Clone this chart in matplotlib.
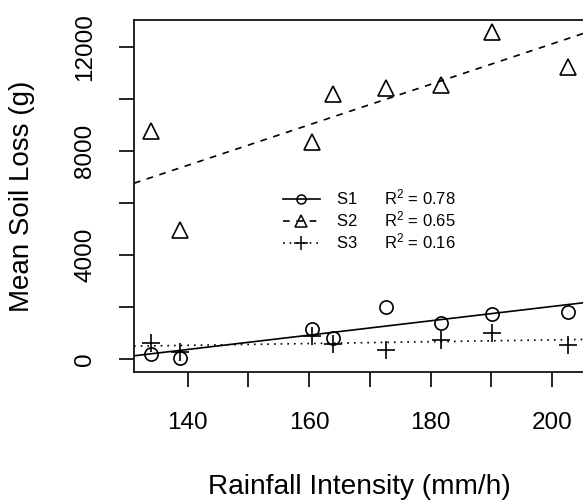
import matplotlib
matplotlib.use("Agg")
import matplotlib.pyplot as plt
from matplotlib.lines import Line2D
import numpy as np

plt.rcParams['font.family'] = ['Liberation Sans', 'DejaVu Sans']
plt.rcParams['mathtext.fontset'] = 'custom'
plt.rcParams['mathtext.rm'] = 'Liberation Sans'
plt.rcParams['mathtext.it'] = 'Liberation Sans'

# Data
rain = [133.9, 138.7, 160.5, 163.9, 172.6, 181.7, 190.1, 202.6]
s1 = [190, 40, 1165, 830, 2020, 1410, 1730, 1820]
s2 = [8780, 4970, 8370, 10190, 10420, 10550, 12600, 11250]
s3 = [640, 290, 900, 580, 360, 740, 1020, 550]
names = ["S1", "S2", "S3"]
r2 = ["0.78", "0.65", "0.16"]
xticks = [140, 150, 160, 170, 180, 190, 200]
xticklabels = ["140", "", "160", "", "180", "", "200"]
yticks = [0, 2000, 4000, 6000, 8000, 10000, 12000]
yticklabels = ["0", "", "4000", "", "8000", "", "12000"]

fig = plt.figure(figsize=(5.83, 5.00), dpi=100)
W, H = 583, 500
L, R, T, B = 134, 584, 20, 372
ax = fig.add_axes([L / W, 1 - B / H, (R - L) / W, (B - T) / H])

xlim = (131.16, 205.24)
ylim = (-488, 13050)
ax.set_xlim(*xlim)
ax.set_ylim(*ylim)

lw = 1.2
markers = ['o', '^', '+']
msizes = [9.5, 12, 13.5]
styles = ['-', (0, (4, 4)), (0, (1, 3))]
series = [s1, s2, s3]
for ys, m, ms, ls in zip(series, markers, msizes, styles):
    ax.plot(rain, ys, linestyle='none', marker=m, markersize=ms,
            markerfacecolor='none', markeredgecolor='black', markeredgewidth=1.2,
            clip_on=False)
    k, b = np.polyfit(rain, ys, 1)
    xx = np.array(xlim)
    ax.plot(xx, k * xx + b, color='black', linestyle=ls, linewidth=lw)

for sp in ax.spines.values():
    sp.set_linewidth(lw)

ax.set_xticks(xticks)
ax.set_xticklabels(xticklabels)
ax.set_yticks(yticks)
ax.set_yticklabels(yticklabels, rotation=90, va='center')
ax.tick_params(axis='both', direction='out', length=11, width=lw,
               labelsize=17.5, colors='black')
ax.tick_params(axis='x', pad=18)
ax.tick_params(axis='y', pad=16)

ax.set_xlabel("Rainfall Intensity (mm/h)", fontsize=20.2, va='center')
ax.xaxis.set_label_coords(0.5, (B - 487) / (B - T))
ax.set_ylabel("Mean Soil Loss (g)", fontsize=20, va='center')
ax.yaxis.set_label_coords((22 - L) / (R - L), 0.5)

handles = []
lmsizes = [6.5, 8, 10]
for m, ms, ls in zip(markers, lmsizes, styles):
    handles.append(Line2D([], [], color='black', linestyle=ls, linewidth=lw,
                          marker=m, markersize=ms, markerfacecolor='none',
                          markeredgewidth=1.1))
labels = [f"{n}      R$^{{2}}$ = {v}" for n, v in zip(names, r2)]
ax.legend(handles, labels, loc='upper left',
          bbox_to_anchor=((283 - L) / (R - L), (B - 188) / (B - T)),
          frameon=False, fontsize=12, handlelength=2.2, handletextpad=1.0,
          labelspacing=0.12, borderpad=0, borderaxespad=0)

fig.savefig("out.png", dpi=100)
